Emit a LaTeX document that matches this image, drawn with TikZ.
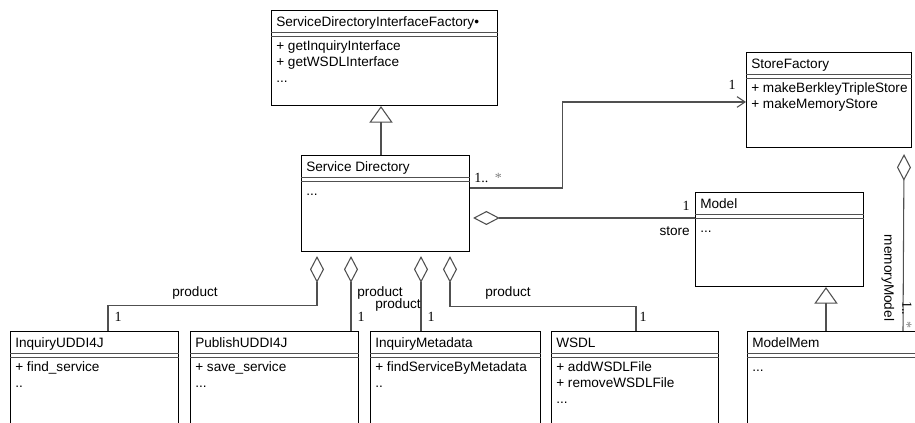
\documentclass[tikz,border=0pt]{standalone}
\usepackage{fontspec}
\setmainfont{Liberation Sans}
\newfontfamily\multfont{Liberation Serif}
\usetikzlibrary{arrows.meta,calc}
\definecolor{linkgray}{RGB}{80,80,80}

% compartment separator lines of a class box (offsets in px from the top)
\newcommand\compart[1]{%
  \draw[sep] ($(#1.north west)+(0,22)$) -- ($(#1.north east)+(0,22)$);
  \draw[sep] ($(#1.north west)+(0,26.5)$) -- ($(#1.north east)+(0,26.5)$);}
% text line #2 of class #1 (0 = title)
\newcommand\clsline[3]{%
  \node[txt] at ($(#1.north west)+(5,{17+24*min(#2,1)+16*max(#2-1,0)})$) {#3};}

\begin{document}
\begin{tikzpicture}[x=0.75pt,y=-0.75pt,
  cls/.style={draw=black,line width=0.8pt},
  sep/.style={draw=linkgray,line width=0.7pt},
  box/.style={cls,fill=white,anchor=north west,inner sep=0pt},
  txt/.style={anchor=base west,inner sep=0pt,font=\fontsize{10.2}{12}\selectfont},
  mult/.style={inner sep=0pt,anchor=base,font=\multfont\fontsize{10.5}{12}\selectfont},
  role/.style={inner sep=0pt,anchor=base,font=\fontsize{10.2}{12}\selectfont},
  link/.style={draw=linkgray,line width=0.8pt},
  inherit/.style={link,-{Triangle[open,length=12.5pt,width=17.5pt]}},
  agg/.style={link,{Diamond[open,length=20pt,width=10.5pt]}-},
  nav/.style={link,-{Straight Barb[length=6pt,width=8pt]}}]

\useasboundingbox (0,0) rectangle (915,423);
\fill[white] (0,0) rectangle (915,423);
\clip (0,0) rectangle (915,423);

% class boxes
\node[box,minimum width=169.5pt,minimum height=71.25pt] (sdif) at (271,10) {};
\node[box,minimum width=126pt,minimum height=72pt] (sd) at (301,155) {};
\node[box,minimum width=123.75pt,minimum height=71.25pt] (sf) at (746,52) {};
\node[box,minimum width=126pt,minimum height=70.5pt] (model) at (695,192) {};
\node[box,minimum width=126pt,minimum height=82.5pt] (iu) at (10,331) {};
\node[box,minimum width=126pt,minimum height=82.5pt] (pu) at (190,331) {};
\node[box,minimum width=127.5pt,minimum height=82.5pt] (im) at (370,331) {};
\node[box,minimum width=125.25pt,minimum height=82.5pt] (ws) at (551,331) {};
\node[box,minimum width=135pt,minimum height=82.5pt] (mm) at (747,331) {};

\foreach \c in {sdif,sd,sf,model,iu,pu,im,ws,mm}{\compart{\c}}

% class contents
\clsline{sdif}{0}{ServiceDirectoryInterfaceFactory•}
\clsline{sdif}{1}{+ getInquiryInterface}
\clsline{sdif}{2}{+ getWSDLInterface}
\clsline{sdif}{3}{...}

\clsline{sd}{0}{Service Directory}
\clsline{sd}{1}{...}

\clsline{sf}{0}{StoreFactory}
\clsline{sf}{1}{+ makeBerkleyTripleStore}
\clsline{sf}{2}{+ makeMemoryStore}

\clsline{model}{0}{Model}
\clsline{model}{1}{...}

\clsline{iu}{0}{InquiryUDDI4J}
\clsline{iu}{1}{+ find\_service}
\clsline{iu}{2}{..}

\clsline{pu}{0}{PublishUDDI4J}
\clsline{pu}{1}{+ save\_service}
\clsline{pu}{2}{...}

\clsline{im}{0}{InquiryMetadata}
\clsline{im}{1}{+ findServiceByMetadata}
\clsline{im}{2}{..}

\clsline{ws}{0}{WSDL}
\clsline{ws}{1}{+ addWSDLFile}
\clsline{ws}{2}{+ removeWSDLFile}
\clsline{ws}{3}{...}

\clsline{mm}{0}{ModelMem}
\clsline{mm}{1}{...}

% generalizations
\draw[inherit] ($(sd.north west)+(80,0)$) -- ($(sdif.south west)+(110,0)$);
\draw[inherit] ($(mm.north west)+(79,0)$) -- ($(model.south west)+(131,0)$);

% navigable association to the store factory
\draw[nav] ($(sd.north east)+(0,33)$) -- ++(92,0) |- ($(sf.north west)+(0,50)$);
\node[mult,anchor=base west] at (474,183) {1..\hspace{5pt}{\color{gray}*}};
\node[mult] at (732,90) {1};

% store aggregation
\draw[agg,shorten <=2.25pt] ($(sd.north east)+(0,63)$) -- ($(model.north west)+(0,26)$);
\node[mult] at (686,211) {1};
\node[role,anchor=base east] at (690,236) {store};

% product aggregations
\coordinate (p2) at ($(sd.south west)+(50,0)$);
\coordinate (p3) at ($(sd.south west)+(120,0)$);
\draw[agg,shorten <=3pt] ($(sd.south west)+(16,0)$) -- ++(0,53) -| ($(iu.north west)+(98,0)$);
\draw[agg,shorten <=3pt] (p2) -- (p2 |- pu.north);
\draw[agg,shorten <=3pt] (p3) -- (p3 |- im.north);
\draw[agg,shorten <=3pt] ($(sd.south west)+(149,0)$) -- ++(0,54) -| ($(ws.north west)+(85,0)$);
\node[role] at (195,297) {product};
\node[role] at (380,297) {product};
\node[role] at (398,309) {product};
\node[role] at (508,297) {product};
\node[mult] at (118,322) {1};
\node[mult] at (361,322) {1};
\node[mult] at (431,322) {1};
\node[mult] at (643,322) {1};

% memory model aggregation
\draw[agg,shorten <=4.5pt] ($(sf.south east)+(-8,0)$) -- ($(mm.north west)+(156,0)$);
\node[role,rotate=-90,anchor=center] at (888,278) {memoryModel};
\node[mult,rotate=-90,anchor=center] at (907,315) {1..\hspace{5pt}{\color{gray}*}};
\end{tikzpicture}
\end{document}
